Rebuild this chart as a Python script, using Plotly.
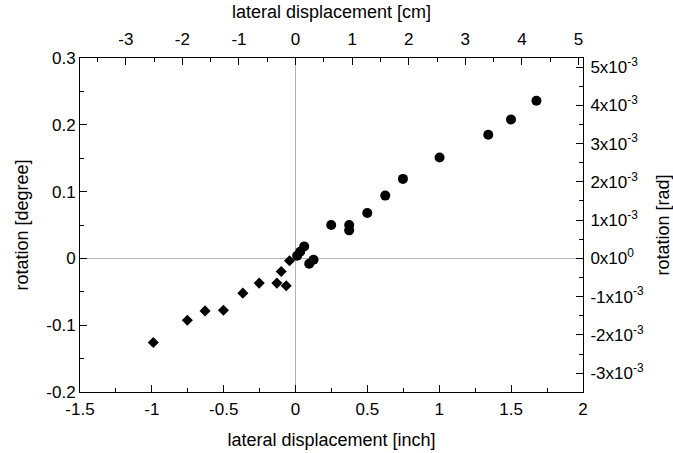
import math
import plotly.graph_objects as go

# data (inch, degree)
diamond_x = [-0.99, -0.753, -0.63, -0.502, -0.367, -0.253, -0.13, -0.10, -0.065, -0.042]
diamond_y = [-0.126, -0.0925, -0.0786, -0.0775, -0.052, -0.037, -0.037, -0.0196, -0.041, -0.0036]

circle_x = [1.676, 1.499, 1.341, 1.002, 0.747, 0.624, 0.499, 0.373, 0.373, 0.248, 0.125, 0.095, 0.060, 0.032, 0.011]
circle_y = [0.236, 0.208, 0.185, 0.151, 0.119, 0.094, 0.068, 0.050, 0.042, 0.050, -0.002, -0.008, 0.018, 0.010, 0.004]

x_ticks = [-1.5, -1, -0.5, 0, 0.5, 1, 1.5, 2]
x_ticktext = ["-1.5", "-1", "-0.5", "0", "0.5", "1", "1.5", "2"]
y_ticks = [-0.2, -0.1, 0, 0.1, 0.2, 0.3]
y_ticktext = ["-0.2", "-0.1", "0", "0.1", "0.2", "0.3"]
cm_ticks = [-3, -2, -1, 0, 1, 2, 3, 4, 5]
cm_ticktext = ["-3", "-2", "-1", "0", "1", "2", "3", "4", "5"]
rad_ticks = [-3e-3, -2e-3, -1e-3, 0, 1e-3, 2e-3, 3e-3, 4e-3, 5e-3]
rad_ticktext = ["-3x10<sup>-3</sup>", "-2x10<sup>-3</sup>", "-1x10<sup>-3</sup>", "0x10<sup>0</sup>",
                "1x10<sup>-3</sup>", "2x10<sup>-3</sup>", "3x10<sup>-3</sup>", "4x10<sup>-3</sup>",
                "5x10<sup>-3</sup>"]

x_range = [-1.5, 2]
y_range = [-0.2, 0.3]
INCH_TO_CM = 2.54
DEG_TO_RAD = math.pi / 180

FONT = "Liberation Sans, Arial, sans-serif"
FS = 17
TFS = 18

fig = go.Figure()
fig.add_trace(go.Scatter(x=diamond_x, y=diamond_y, mode="markers",
                         marker=dict(symbol="diamond", size=8.5, color="black"),
                         showlegend=False, hoverinfo="skip"))
fig.add_trace(go.Scatter(x=circle_x, y=circle_y, mode="markers",
                         marker=dict(symbol="circle", size=10, color="black"),
                         showlegend=False, hoverinfo="skip"))
# invisible trace for secondary axes
fig.add_trace(go.Scatter(x=[0], y=[0], xaxis="x2", yaxis="y2", mode="markers",
                         marker=dict(opacity=0), showlegend=False, hoverinfo="skip"))

common = dict(showline=True, linecolor="black", linewidth=1, ticks="inside",
              tickcolor="black", ticklen=7, tickwidth=1, showgrid=False,
              tickfont=dict(family=FONT, size=FS, color="black"))

fig.update_layout(
    width=673, height=453,
    margin=dict(l=80, r=90, t=58, b=61),
    paper_bgcolor="white", plot_bgcolor="white",
    font=dict(family=FONT, size=FS, color="black"),
    xaxis=dict(range=x_range, tickmode="array", tickvals=x_ticks, ticktext=x_ticktext,
               zeroline=True, zerolinecolor="#b4b4b4", zerolinewidth=1,
               minor=dict(dtick=0.25, tick0=0, ticklen=4, ticks="inside", tickcolor="black"),
               ticklabelstandoff=2,
               title=dict(text="lateral displacement [inch]", standoff=14,
                          font=dict(family=FONT, size=TFS)),
               automargin=False, **common),
    yaxis=dict(range=y_range, tickmode="array", tickvals=y_ticks, ticktext=y_ticktext,
               zeroline=True, zerolinecolor="#b4b4b4", zerolinewidth=1,
               minor=dict(dtick=0.05, tick0=0, ticklen=4, ticks="inside", tickcolor="black"),
               title=dict(text="rotation [degree]", standoff=13,
                          font=dict(family=FONT, size=TFS)),
               automargin=False, **common),
    xaxis2=dict(range=[x_range[0] * INCH_TO_CM, x_range[1] * INCH_TO_CM], overlaying="x",
                side="top", anchor="y", tickmode="array", tickvals=cm_ticks, ticktext=cm_ticktext,
                zeroline=False,
                minor=dict(dtick=0.5, tick0=0, ticklen=4, ticks="inside", tickcolor="black"),
                ticklabelstandoff=5,
                title=dict(text="lateral displacement [cm]", standoff=6,
                           font=dict(family=FONT, size=TFS)),
                automargin=False, **common),
    yaxis2=dict(range=[y_range[0] * DEG_TO_RAD, y_range[1] * DEG_TO_RAD], overlaying="y",
                side="right", anchor="x", tickmode="array", tickvals=rad_ticks, ticktext=rad_ticktext,
                zeroline=False,
                minor=dict(dtick=0.5e-3, tick0=0, ticklen=4, ticks="inside", tickcolor="black"),
                ticklabelstandoff=3,
                title=dict(text="rotation [rad]", standoff=14,
                           font=dict(family=FONT, size=TFS)),
                automargin=False, **common),
)

fig.write_html("out.html")
